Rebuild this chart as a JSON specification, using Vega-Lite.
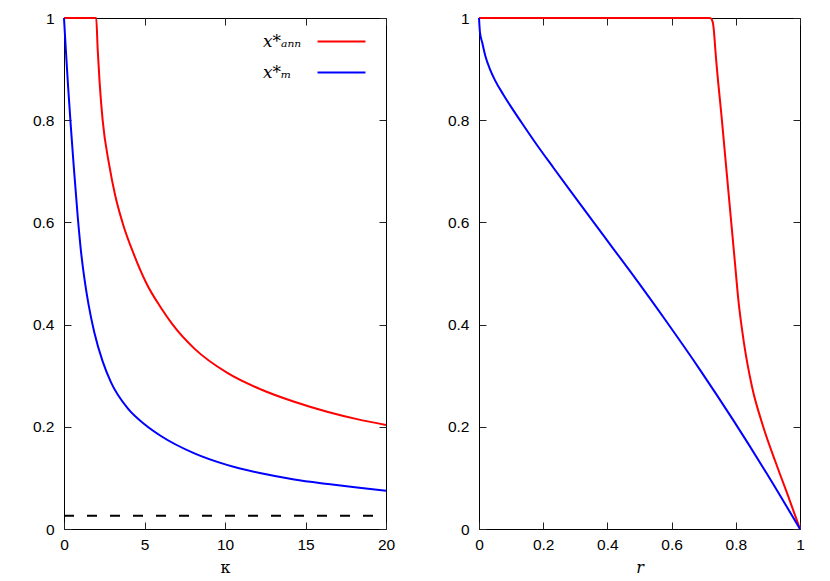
{
  "$schema": "https://vega.github.io/schema/vega-lite/v6.json",
  "autosize": {"type": "pad"},
  "padding": {"left": 31, "top": 10, "right": 5, "bottom": 2},
  "background": "white",
  "spacing": 50,
  "config": {
    "font": "Liberation Sans",
    "view": {"stroke": "black", "strokeWidth": 1},
    "axis": {
      "grid": false,
      "domain": false,
      "tickSize": -7,
      "tickColor": "#222222",
      "tickWidth": 1,
      "labelFlush": false,
      "labelFontSize": 15.5,
      "labelColor": "black",
      "labelFont": "Liberation Sans",
      "titleFontWeight": "normal",
      "titleColor": "black",
      "titleFont": "DejaVu Serif",
      "titleFontSize": 16
    }
  },
  "datasets": {
    "kappa": [
      {"x": 0, "v": 1, "s": "ann"},
      {"x": 2.0, "v": 1, "s": "ann"},
      {"x": 2.09, "v": 0.94, "s": "ann"},
      {"x": 2.21, "v": 0.875, "s": "ann"},
      {"x": 2.4, "v": 0.8, "s": "ann"},
      {"x": 2.81, "v": 0.712, "s": "ann"},
      {"x": 3.17, "v": 0.654, "s": "ann"},
      {"x": 3.65, "v": 0.598, "s": "ann"},
      {"x": 4.37, "v": 0.535, "s": "ann"},
      {"x": 5.1, "v": 0.482, "s": "ann"},
      {"x": 6.02, "v": 0.433, "s": "ann"},
      {"x": 6.75, "v": 0.4, "s": "ann"},
      {"x": 8.1, "v": 0.353, "s": "ann"},
      {"x": 10.17, "v": 0.305, "s": "ann"},
      {"x": 12.24, "v": 0.273, "s": "ann"},
      {"x": 14.3, "v": 0.249, "s": "ann"},
      {"x": 16.4, "v": 0.229, "s": "ann"},
      {"x": 18.2, "v": 0.215, "s": "ann"},
      {"x": 20, "v": 0.2035, "s": "ann"},
      {"x": 0, "v": 1, "s": "m"},
      {"x": 0.1, "v": 0.945, "s": "m"},
      {"x": 0.25, "v": 0.868, "s": "m"},
      {"x": 0.43, "v": 0.785, "s": "m"},
      {"x": 0.6, "v": 0.712, "s": "m"},
      {"x": 0.85, "v": 0.612, "s": "m"},
      {"x": 1.06, "v": 0.542, "s": "m"},
      {"x": 1.3, "v": 0.483, "s": "m"},
      {"x": 1.52, "v": 0.44, "s": "m"},
      {"x": 1.88, "v": 0.385, "s": "m"},
      {"x": 2.4, "v": 0.328, "s": "m"},
      {"x": 2.92, "v": 0.287, "s": "m"},
      {"x": 3.96, "v": 0.236, "s": "m"},
      {"x": 5, "v": 0.205, "s": "m"},
      {"x": 6.02, "v": 0.182, "s": "m"},
      {"x": 8.1, "v": 0.148, "s": "m"},
      {"x": 10.17, "v": 0.125, "s": "m"},
      {"x": 12.24, "v": 0.109, "s": "m"},
      {"x": 14.3, "v": 0.097, "s": "m"},
      {"x": 16.4, "v": 0.088, "s": "m"},
      {"x": 18.2, "v": 0.081, "s": "m"},
      {"x": 20, "v": 0.075, "s": "m"}
    ],
    "dash": [
      {"x": 0, "v": 0.026},
      {"x": 20, "v": 0.026}
    ],
    "rdata": [
      {"x": 0, "v": 1, "s": "ann"},
      {"x": 0.72, "v": 1, "s": "ann"},
      {"x": 0.726, "v": 0.996, "s": "ann"},
      {"x": 0.73, "v": 0.985, "s": "ann"},
      {"x": 0.7335, "v": 0.962, "s": "ann"},
      {"x": 0.7352, "v": 0.947, "s": "ann"},
      {"x": 0.7567, "v": 0.8, "s": "ann"},
      {"x": 0.7858, "v": 0.6, "s": "ann"},
      {"x": 0.7985, "v": 0.513, "s": "ann"},
      {"x": 0.8069, "v": 0.4546, "s": "ann"},
      {"x": 0.8256, "v": 0.3634, "s": "ann"},
      {"x": 0.8505, "v": 0.2785, "s": "ann"},
      {"x": 0.8837, "v": 0.2035, "s": "ann"},
      {"x": 0.9252, "v": 0.1286, "s": "ann"},
      {"x": 0.9667, "v": 0.0581, "s": "ann"},
      {"x": 1, "v": 0, "s": "ann"},
      {"x": 0, "v": 1, "s": "m"},
      {"x": 0.003, "v": 0.972, "s": "m"},
      {"x": 0.01, "v": 0.952, "s": "m"},
      {"x": 0.02, "v": 0.925, "s": "m"},
      {"x": 0.034, "v": 0.9, "s": "m"},
      {"x": 0.05, "v": 0.878, "s": "m"},
      {"x": 0.076, "v": 0.85, "s": "m"},
      {"x": 0.1, "v": 0.826, "s": "m"},
      {"x": 0.133, "v": 0.795, "s": "m"},
      {"x": 0.18, "v": 0.752, "s": "m"},
      {"x": 0.233, "v": 0.706, "s": "m"},
      {"x": 0.283, "v": 0.663, "s": "m"},
      {"x": 0.387, "v": 0.575, "s": "m"},
      {"x": 0.47, "v": 0.505, "s": "m"},
      {"x": 0.585, "v": 0.405, "s": "m"},
      {"x": 0.688, "v": 0.312, "s": "m"},
      {"x": 0.792, "v": 0.213, "s": "m"},
      {"x": 0.896, "v": 0.109, "s": "m"},
      {"x": 1, "v": 0, "s": "m"}
    ]
  },
  "hconcat": [
    {
      "width": 322,
      "height": 511,
      "layer": [
        {
          "data": {"name": "dash"},
          "mark": {"type": "line", "color": "black", "strokeWidth": 2, "strokeDash": [10, 13]},
          "encoding": {
            "x": {"field": "x", "type": "quantitative", "scale": {"domain": [0, 20], "nice": false}, "axis": {"orient": "bottom", "title": "κ", "values": [0, 5, 10, 15, 20], "labelPadding": 15, "titlePadding": 7}},
            "y": {"field": "v", "type": "quantitative", "scale": {"domain": [0, 1], "nice": false}, "axis": {"orient": "left", "title": null, "values": [0, 0.2, 0.4, 0.6, 0.8, 1], "format": "~g", "labelPadding": 17}}
          }
        },
        {
          "data": {"name": "kappa"},
          "mark": {"type": "line", "strokeWidth": 2, "interpolate": "monotone"},
          "encoding": {
            "x": {"field": "x", "type": "quantitative", "scale": {"domain": [0, 20], "nice": false}, "axis": null},
            "y": {"field": "v", "type": "quantitative", "scale": {"domain": [0, 1], "nice": false}, "axis": null},
            "color": {
              "field": "s", "type": "nominal",
              "scale": {"domain": ["ann", "m"], "range": ["#ff0000", "#0000ff"]},
              "legend": {
                "orient": "none", "legendX": 269, "legendY": 15, "title": null,
                "symbolType": "M-5,0H5", "symbolSize": 92, "symbolStrokeWidth": 2,
                "labelFont": "DejaVu Serif", "labelFontStyle": "italic", "labelFontSize": 17,
                "labelOffset": -87, "labelAlign": "left", "rowPadding": 13, "padding": 0,
                "labelExpr": "datum.label == 'ann' ? 'x*ₐₙₙ' : 'x*ₘ'"
              }
            }
          }
        },
        {
          "data": {"name": "dash"},
          "mark": {"type": "point", "opacity": 0},
          "encoding": {
            "x": {"field": "x", "type": "quantitative", "scale": {"domain": [0, 20], "nice": false}, "axis": {"orient": "top", "title": null, "labels": false, "values": [0, 5, 10, 15, 20]}},
            "y": {"field": "v", "type": "quantitative", "scale": {"domain": [0, 1], "nice": false}, "axis": {"orient": "right", "title": null, "labels": false, "values": [0, 0.2, 0.4, 0.6, 0.8, 1]}}
          }
        }
      ],
      "resolve": {"axis": {"x": "independent", "y": "independent"}}
    },
    {
      "width": 321,
      "height": 511,
      "layer": [
        {
          "data": {"name": "rdata"},
          "mark": {"type": "line", "strokeWidth": 2, "interpolate": "monotone"},
          "encoding": {
            "x": {"field": "x", "type": "quantitative", "scale": {"domain": [0, 1], "nice": false}, "axis": {"orient": "bottom", "title": "r", "titleFontStyle": "italic", "values": [0, 0.2, 0.4, 0.6, 0.8, 1], "format": "~g", "labelPadding": 15, "titlePadding": 7}},
            "y": {"field": "v", "type": "quantitative", "scale": {"domain": [0, 1], "nice": false}, "axis": {"orient": "left", "title": null, "values": [0, 0.2, 0.4, 0.6, 0.8, 1], "format": "~g", "labelPadding": 17}},
            "color": {
              "field": "s", "type": "nominal",
              "scale": {"domain": ["ann", "m"], "range": ["#ff0000", "#0000ff"]},
              "legend": {
                "orient": "none", "legendX": 269, "legendY": 15, "title": null,
                "symbolType": "M-5,0H5", "symbolSize": 92, "symbolStrokeWidth": 2,
                "labelFont": "DejaVu Serif", "labelFontStyle": "italic", "labelFontSize": 17,
                "labelOffset": -87, "labelAlign": "left", "rowPadding": 13, "padding": 0,
                "labelExpr": "datum.label == 'ann' ? 'x*ₐₙₙ' : 'x*ₘ'"
              }
            }
          }
        },
        {
          "data": {"name": "rdata"},
          "mark": {"type": "point", "opacity": 0},
          "encoding": {
            "x": {"field": "x", "type": "quantitative", "scale": {"domain": [0, 1], "nice": false}, "axis": {"orient": "top", "title": null, "labels": false, "values": [0, 0.2, 0.4, 0.6, 0.8, 1]}},
            "y": {"field": "v", "type": "quantitative", "scale": {"domain": [0, 1], "nice": false}, "axis": {"orient": "right", "title": null, "labels": false, "values": [0, 0.2, 0.4, 0.6, 0.8, 1]}}
          }
        }
      ],
      "resolve": {"axis": {"x": "independent", "y": "independent"}}
    }
  ]
}
